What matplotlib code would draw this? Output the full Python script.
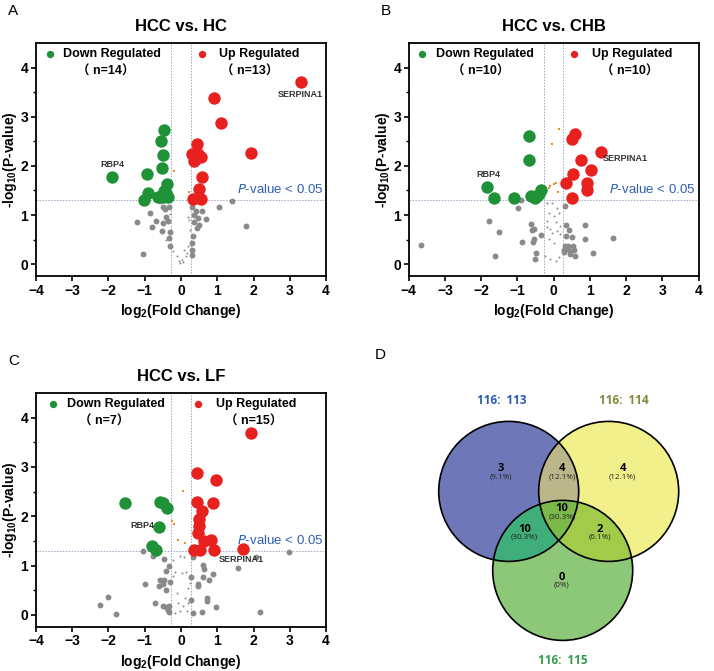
import numpy as np
import matplotlib
matplotlib.use('Agg')
import matplotlib.pyplot as plt
from matplotlib.patches import Circle

plt.rcParams['font.family'] = ['Liberation Sans', 'Noto Sans CJK SC', 'DejaVu Sans']
plt.rcParams['mathtext.default'] = 'regular'

GREEN = '#1f9238'
RED = '#e8201e'
GREY = '#8a8a8a'
ORANGE = '#f28a1c'
GUIDE = '#9aa6c4'

# ---- HCC vs. HC ----
a_down_x = [-1.91, -0.95, -0.90, -1.02, -0.46, -0.55, -0.51, -0.53, -0.38, -0.46, -0.63, -0.49, -0.37, -0.42]
a_down_y = [1.78, 1.83, 1.44, 1.31, 2.74, 2.51, 2.22, 1.95, 1.63, 1.48, 1.36, 1.37, 1.37, 1.44]
a_up_x = [3.31, 0.92, 1.09, 1.93, 0.43, 0.29, 0.48, 0.37, 0.55, 0.57, 0.50, 0.34, 0.55]
a_up_y = [3.70, 3.39, 2.88, 2.27, 2.44, 2.24, 2.24, 2.10, 2.19, 1.78, 1.53, 1.33, 1.33]
a_fc_x = [-0.18, 0.23]
a_fc_y = [1.90, 1.47]
a_ns_x = [1.42, 1.04, 1.78, 0.68, 0.57, 0.40, 0.37, 0.48, 0.37, 0.50, 0.43, 0.29, 0.32, 0.29, 0.31, 0.31,
          -0.86, -1.22, -0.79, -0.68, -0.51, -0.52, -0.42, -0.35, -0.30, -0.33, -0.29, -1.04, -0.58, -0.51, -0.44, -0.33]
a_ns_y = [1.28, 1.17, 0.78, 0.91, 1.09, 1.09, 1.00, 0.93, 0.85, 0.79, 0.74, 1.17, 0.58, 0.43, 0.28, 0.19,
          1.05, 0.85, 0.76, 0.87, 0.83, 0.68, 0.97, 0.87, 0.65, 0.54, 0.38, 0.21, 1.29, 1.17, 1.12, 1.17]
a_tiny_x = [0.09, 0.02, -0.03, -0.12, 0.14, 0.20, 0.25, 0.23, -0.21, 0.06, -0.06, 0.16, 0.27, -0.30, -0.40, 0.20]
a_tiny_y = [0.28, 0.09, 0.02, 0.16, 0.16, 0.36, 0.70, 0.90, 0.26, 0.05, 0.07, 0.22, 0.56, 1.03, 0.49, 0.97]

# ---- HCC vs. CHB ----
b_down_x = [-1.84, -1.66, -1.09, -0.68, -0.68, -0.64, -0.51, -0.41, -0.34, -0.46]
b_down_y = [1.58, 1.34, 1.34, 2.60, 2.11, 1.39, 1.34, 1.42, 1.51, 1.39]
b_up_x = [1.31, 0.60, 0.51, 0.74, 1.04, 0.53, 0.33, 0.92, 0.92, 0.51]
b_up_y = [2.29, 2.65, 2.54, 2.12, 1.92, 1.83, 1.65, 1.65, 1.51, 1.34]
b_fc_x = [0.14, -0.04, -0.09, 0.00, 0.07, 0.13, -0.14]
b_fc_y = [2.76, 2.45, 1.59, 1.63, 1.65, 1.47, 1.56]
b_ns_x = [-3.65, -1.79, -1.52, -1.61, -0.89, -0.99, -0.87, -0.63, -0.60, -0.53, -0.55, -0.57, -0.34, -0.49, -0.51,
          0.32, 0.35, 0.43, 0.35, 0.51, 0.32, 0.40, 0.53, 0.37, 0.46, 0.55, 0.29, 0.44, 0.58, 0.28, 0.85, 0.86, 1.09, 1.64]
b_ns_y = [0.39, 0.87, 0.66, 0.17, 1.30, 1.15, 0.45, 0.81, 0.69, 0.71, 0.52, 0.46, 0.59, 0.22, 0.10,
          1.19, 0.80, 0.69, 0.58, 0.56, 0.37, 0.37, 0.37, 0.31, 0.27, 0.29, 0.24, 0.20, 0.17, 0.29, 0.80, 0.51, 0.22, 0.54]
b_tiny_x = [-0.18, -0.05, 0.09, -0.14, 0.00, 0.14, -0.18, 0.05, -0.09, 0.09, 0.18, -0.14, 0.00, -0.23, -0.09, 0.05, 0.14, -0.18, -0.05, 0.18]
b_tiny_y = [1.25, 1.24, 1.15, 1.05, 0.98, 1.05, 0.88, 0.85, 0.71, 0.68, 0.61, 0.51, 0.44, 0.17, 0.10, 0.07, 0.14, 0.75, 0.64, 0.78]

# ---- HCC vs. LF ----
c_down_x = [-1.54, -0.58, -0.49, -0.38, -0.60, -0.81, -0.70]
c_down_y = [2.27, 2.28, 2.26, 2.17, 1.78, 1.39, 1.31]
c_up_x = [1.93, 0.43, 0.97, 0.43, 0.89, 0.57, 0.51, 0.51, 0.48, 0.63, 0.82, 0.36, 0.52, 0.92, 1.70]
c_up_y = [3.69, 2.88, 2.73, 2.28, 2.26, 2.10, 1.95, 1.80, 1.66, 1.49, 1.51, 1.32, 1.32, 1.32, 1.34]
c_fc_x = [0.05, -0.26, -0.19, -0.07, 0.11]
c_fc_y = [2.51, 1.91, 1.84, 1.51, 1.46]
c_ns_x = [-1.04, -0.78, -0.47, -0.32, -0.41, 0.34, 0.62, 0.64, 0.89, 0.60, 0.77, 0.28, -0.99, -0.58, -0.47, -0.51,
          -0.30, -0.60, -0.40, 0.48, 0.48, 0.73, 0.71, 0.28, -0.72, -0.49, -0.42, -0.33, -0.37, -0.32, 0.32, 0.57,
          0.96, -2.00, -2.23, -1.79, 1.56, 2.07, 2.18, 2.97]
c_ns_y = [1.30, 1.19, 1.14, 1.00, 0.90, 1.17, 1.02, 0.93, 0.83, 0.77, 0.71, 0.77, 0.63, 0.70, 0.71, 0.63,
          0.66, 0.59, 0.51, 0.62, 0.58, 0.34, 0.28, 0.31, 0.24, 0.19, 0.15, 0.17, 0.09, 0.05, 0.03, 0.05,
          0.15, 0.37, 0.20, 0.01, 0.95, 1.17, 0.05, 1.28]
c_tiny_x = [-0.21, -0.03, 0.08, -0.17, 0.02, 0.14, -0.21, 0.20, -0.12, 0.11, -0.07, 0.05, 0.20, -0.03, -0.17, 0.16, 0.25]
c_tiny_y = [1.12, 1.19, 1.17, 0.86, 0.85, 0.87, 0.78, 0.54, 0.44, 0.34, 0.24, 0.17, 0.24, 0.07, 0.03, 0.07, 0.64]

panels = [
    dict(letter='A', title='HCC vs. HC', n_down=14, n_up=13,
         down=(a_down_x, a_down_y), up=(a_up_x, a_up_y), fc=(a_fc_x, a_fc_y),
         ns=(a_ns_x, a_ns_y), tiny=(a_tiny_x, a_tiny_y),
         rbp4=(-1.89, 2.02), serp=(3.28, 3.45),
         leg=(-3.61, -3.25, -2.07, 0.57, 1.06, 1.89)),
    dict(letter='B', title='HCC vs. CHB', n_down=10, n_up=10,
         down=(b_down_x, b_down_y), up=(b_up_x, b_up_y), fc=(b_fc_x, b_fc_y),
         ns=(b_ns_x, b_ns_y), tiny=(b_tiny_x, b_tiny_y),
         rbp4=(-1.81, 1.82), serp=(1.98, 2.16),
         leg=(-3.63, -3.25, -2.02, 0.57, 1.06, 2.09)),
    dict(letter='C', title='HCC vs. LF', n_down=7, n_up=15,
         down=(c_down_x, c_down_y), up=(c_up_x, c_up_y), fc=(c_fc_x, c_fc_y),
         ns=(c_ns_x, c_ns_y), tiny=(c_tiny_x, c_tiny_y),
         rbp4=(-1.06, 1.81), serp=(1.67, 1.12),
         leg=(-3.54, -3.15, -2.12, 0.48, 0.97, 2.00)),
]
rects = [[0.0504, 0.5887, 0.4062, 0.3472],
         [0.5724, 0.5887, 0.4062, 0.3472],
         [0.0504, 0.0660, 0.4062, 0.3483]]

# Venn data
venn_counts = [3, 4, 4, 10, 10, 2, 0]
venn_pcts = ['(9.1%)', '(12.1%)', '(12.1%)', '(30.3%)', '(30.3%)', '(6.1%)', '(0%)']
venn_sets = ['116:  113', '116:  114', '116:  115']
venn_set_colors = ['#2a5cb4', '#85853a', '#2e9a4a']

fig = plt.figure(figsize=(7.14, 6.71), dpi=100)
fc_thr = np.log2(1.2)
p_thr = -np.log10(0.05)

for p, r in zip(panels, rects):
    ax = fig.add_axes(r)
    ax.set_xlim(-4, 4)
    ax.set_ylim(-0.24, 4.5)
    ax.axvline(-fc_thr, color=GUIDE, ls=(0, (1.5, 1.5)), lw=0.7, zorder=1)
    ax.axvline(fc_thr, color=GUIDE, ls=(0, (1.5, 1.5)), lw=0.7, zorder=1)
    ax.axhline(p_thr, color=GUIDE, ls=(0, (1.5, 1.5)), lw=0.7, zorder=1)
    ax.scatter(*p['tiny'], s=2, color=GREY, lw=0, zorder=2)
    ax.scatter(*p['ns'], s=18, color=GREY, lw=0, zorder=2)
    ax.scatter(*p['fc'], s=4, color=ORANGE, marker='s', lw=0, zorder=2)
    ax.scatter(*p['down'], s=80, color=GREEN, lw=0, zorder=3)
    ax.scatter(*p['up'], s=80, color=RED, lw=0, zorder=3)
    gd, td, nd, gu, tu, nu = p['leg']
    ax.scatter([gd], [4.27], s=28, color=GREEN, lw=0, zorder=3)
    ax.scatter([gu], [4.27], s=28, color=RED, lw=0, zorder=3)
    ax.text(td, 4.27, 'Down Regulated', fontsize=9, fontweight='bold', va='center', ha='left')
    ax.text(tu, 4.27, 'Up Regulated', fontsize=9, fontweight='bold', va='center', ha='left')
    ax.text(nd, 3.92, '（ n=%d）' % p['n_down'], fontsize=9, fontweight='bold', va='center', ha='center')
    ax.text(nu, 3.92, '（ n=%d）' % p['n_up'], fontsize=9, fontweight='bold', va='center', ha='center')
    ax.text(*p['rbp4'], 'RBP4', fontsize=6.5, fontweight='bold', color='#333333', ha='center', va='center')
    ax.text(*p['serp'], 'SERPINA1', fontsize=6.5, fontweight='bold', color='#333333', ha='center', va='center')
    ax.text(3.92, 1.51, r'$\it{P}$-value < 0.05', fontsize=9.5, color='#2f5fb3', ha='right', va='center')
    ax.set_title(p['title'], fontsize=12, fontweight='bold', pad=9)
    ax.set_xlabel('log$_2$(Fold Change)', fontsize=10, fontweight='bold', labelpad=3)
    ax.set_ylabel('-log$_{10}$(P-value)', fontsize=10, fontweight='bold')
    ax.yaxis.set_label_coords(-0.058, 0.5)
    ax.set_xticks(range(-4, 5))
    ax.set_yticks(range(0, 5))
    ax.set_yticks(np.arange(0.5, 4.5, 1), minor=True)
    ax.tick_params(which='major', labelsize=10, width=1.2, length=3.5, pad=2)
    ax.tick_params(which='minor', width=1.0, length=2)
    for lab in ax.get_xticklabels() + ax.get_yticklabels():
        lab.set_fontweight('bold')
    for s in ax.spines.values():
        s.set_linewidth(1.3)
    fig.text(r[0] - 0.039, r[1] + r[3] + 0.047, p['letter'], fontsize=11, va='center', ha='left')

# ---- Venn (D) ----
axd = fig.add_axes([0.5, 0.0, 0.5, 341 / 671])
axd.set_xlim(357, 714)
axd.set_ylim(671, 330)
axd.axis('off')
R = 70
cx, cy, dx, dy = 558.7, 491.4, 50.0, 79.0
centers = [(cx - dx, cy), (cx + dx, cy), (cx + 4, cy + dy)]
fills = ['#6e78b8', '#f2f08a', '#8cc878']
for (x0, y0), col in zip(centers, fills):
    axd.add_patch(Circle((x0, y0), R, facecolor=col, edgecolor='none', zorder=1))


def overlap(i, j, col, z=2):
    c = Circle(centers[i], R, facecolor=col, edgecolor='none', zorder=z)
    axd.add_patch(c)
    c.set_clip_path(Circle(centers[j], R, transform=axd.transData))


overlap(0, 1, '#bbb78a')
overlap(0, 2, '#3fae7a')
overlap(1, 2, '#a2cb4a')

# triple region outline from arcs of each circle lying inside the other two
t = np.linspace(0, 2 * np.pi, 721)
ring_unit = np.stack([np.cos(t), np.sin(t)], 1)
pts = []
for k in range(3):
    ring = np.array(centers[k]) + R * ring_unit
    inside = np.ones(len(ring), bool)
    for m in range(3):
        if m != k:
            inside &= np.hypot(ring[:, 0] - centers[m][0], ring[:, 1] - centers[m][1]) <= R
    pts.append(ring[inside])
pts = np.concatenate(pts)
ctr = pts.mean(0)
order = np.argsort(np.arctan2(pts[:, 1] - ctr[1], pts[:, 0] - ctr[0]))
axd.fill(pts[order, 0], pts[order, 1], color='#7bba4a', zorder=3, lw=0)

for (x0, y0) in centers:
    axd.add_patch(Circle((x0, y0), R, facecolor='none', edgecolor='black', lw=1.2, zorder=5))

region_pos = [(501, 471.5), (562, 471.5), (622.5, 471.5), (562, 511.5), (524.5, 532.5), (600, 532.5), (562, 580)]
for (x0, y0), n, pc in zip(region_pos, venn_counts, venn_pcts):
    axd.text(x0, y0 - 3, str(n), fontsize=8, fontweight='bold', family='Open Sans',
             ha='center', va='center', zorder=6)
    axd.text(x0, y0 + 5, pc, fontsize=5.8, family='Open Sans', color='#222222',
             ha='center', va='center', zorder=6)

set_pos = [(502, 400), (624, 400), (563, 661)]
for (x0, y0), lab, col in zip(set_pos, venn_sets, venn_set_colors):
    axd.text(x0, y0, lab, fontsize=8.5, fontweight='bold', family='Open Sans', color=col,
             ha='center', va='center')

fig.text(375 / 714, 1 - 355 / 671, 'D', fontsize=11, va='center', ha='left')

fig.savefig('out.png', dpi=100)
